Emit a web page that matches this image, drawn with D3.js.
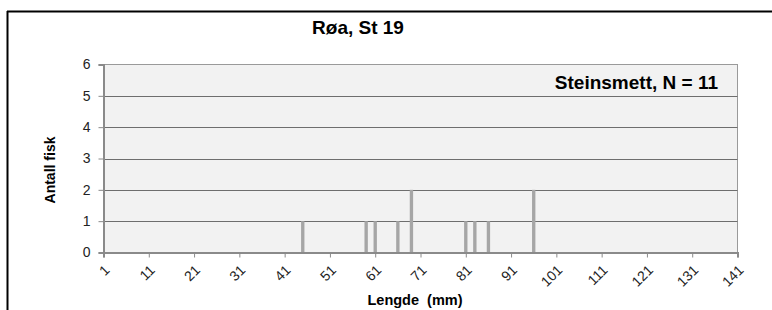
<!DOCTYPE html>
<html>
<head>
<meta charset="utf-8">
<script src="https://cdn.jsdelivr.net/npm/d3@7"></script>
<style>
html,body{margin:0;padding:0;background:#fff;}
svg{display:block;font-family:Arial,"Liberation Sans",sans-serif;}
</style>
</head>
<body>
<svg id="chart" width="772" height="310"></svg>
<script>
const title = "Røa, St 19";
const legendLabel = "Steinsmett, N = 11";
const xTitle = "Lengde  (mm)";
const yTitle = "Antall fisk";
const lengths = [45, 59, 61, 66, 69, 81, 83, 86, 96];
const counts  = [1, 1, 1, 1, 2, 1, 1, 1, 2];
const xTicks = [1, 11, 21, 31, 41, 51, 61, 71, 81, 91, 101, 111, 121, 131, 141];
const yTicks = [0, 1, 2, 3, 4, 5, 6];

const svg = d3.select("#chart");
const m = {left: 103.5, right: 737.5, top: 64.5, bottom: 252.5};

const x = d3.scaleLinear().domain([1, 141]).range([m.left, m.right]);
const y = d3.scaleLinear().domain([0, 6]).range([m.bottom, m.top]);

// outer chart border (top and left only visible)
svg.append("line").attr("x1", 7).attr("x2", 772).attr("y1", 11.5).attr("y2", 11.5)
  .attr("stroke", "#000").attr("stroke-width", 2);
svg.append("line").attr("x1", 7.5).attr("x2", 7.5).attr("y1", 11).attr("y2", 310)
  .attr("stroke", "#000").attr("stroke-width", 2);

// plot background
svg.append("rect").attr("x", m.left).attr("y", m.top)
  .attr("width", m.right - m.left).attr("height", m.bottom - m.top)
  .attr("fill", "#f2f2f2").attr("stroke", "#9a9a9a").attr("stroke-width", 1);

// gridlines
svg.append("g").selectAll("line").data(yTicks.filter(d => d > 0 && d < 6)).join("line")
  .attr("x1", m.left).attr("x2", m.right)
  .attr("y1", d => Math.round(y(d)) + 0.5).attr("y2", d => Math.round(y(d)) + 0.5)
  .attr("stroke", "#6e6e6e").attr("stroke-width", 1);

// bars
const bw = (x(2) - x(1)) * 0.74;
svg.append("g").selectAll("rect").data(lengths.map((l, i) => ({l, c: counts[i]}))).join("rect")
  .attr("x", d => x(d.l) - bw / 2)
  .attr("y", d => y(d.c))
  .attr("width", bw)
  .attr("height", d => y(0) - y(d.c))
  .attr("fill", "#a6a6a6");

// y axis
const yAxis = svg.append("g").attr("transform", `translate(${m.left},0)`)
  .call(d3.axisLeft(y).tickValues(yTicks).tickSize(5).tickPadding(8).tickFormat(d3.format("d")));
yAxis.select(".domain").attr("stroke", "#8a8a8a").attr("stroke-width", 2);
yAxis.selectAll(".tick line").attr("stroke", "#8a8a8a");
yAxis.selectAll("text").attr("font-size", 14).attr("fill", "#222").attr("font-family", "Arial,'Liberation Sans',sans-serif");

// x axis
const xAxis = svg.append("g").attr("transform", `translate(0,${m.bottom})`)
  .call(d3.axisBottom(x).tickValues(xTicks).tickSize(5).tickFormat(d3.format("d")));
xAxis.select(".domain").attr("stroke", "#8a8a8a").attr("stroke-width", 2);
xAxis.selectAll(".tick line").attr("stroke", "#8a8a8a");
xAxis.selectAll("text")
  .attr("font-size", 14).attr("fill", "#222").attr("font-family", "Arial,'Liberation Sans',sans-serif")
  .attr("text-anchor", "end")
  .attr("y", 0).attr("dy", "0.35em")
  .attr("transform", "translate(3,15) rotate(-45)");

// titles
svg.append("text").attr("x", 358).attr("y", 34).attr("text-anchor", "middle")
  .attr("font-size", 19).attr("font-weight", "bold").attr("fill", "#000").text(title);

svg.append("text").attr("x", 718).attr("y", 89).attr("text-anchor", "end")
  .attr("font-size", 19).attr("font-weight", "bold").attr("fill", "#000").text(legendLabel);

svg.append("text").attr("transform", "translate(55,170) rotate(-90)")
  .attr("text-anchor", "middle").attr("font-size", 14).attr("font-weight", "bold")
  .attr("fill", "#000").text(yTitle);

svg.append("text").attr("x", 415).attr("y", 305).attr("text-anchor", "middle")
  .attr("font-size", 14.5).attr("font-weight", "bold").attr("fill", "#000")
  .attr("xml:space", "preserve").style("white-space", "pre").text(xTitle);
</script>
</body>
</html>
